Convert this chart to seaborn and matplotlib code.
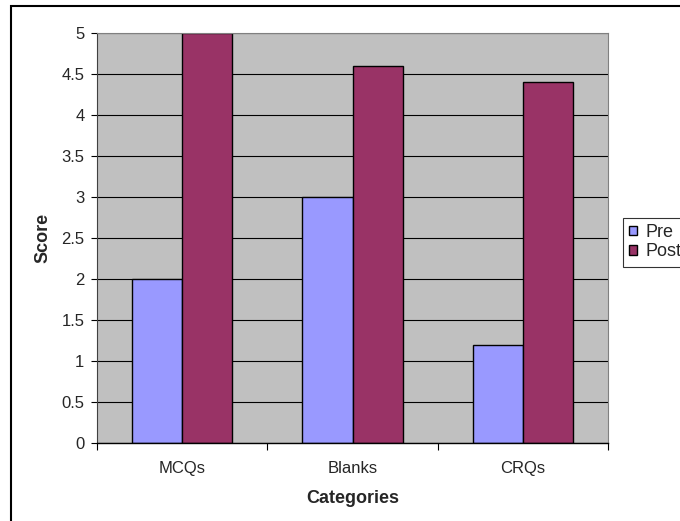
import pandas as pd
import matplotlib.pyplot as plt
import matplotlib.patches as mpatches
import seaborn as sns

categories = ["MCQs", "Blanks", "CRQs"]
pre_scores = [2.0, 3.0, 1.2]
post_scores = [5.0, 4.6, 4.4]
series_names = ["Pre", "Post"]
colors = {"Pre": "#9999FF", "Post": "#993366"}

df = pd.DataFrame({
    "Categories": categories * 2,
    "Score": pre_scores + post_scores,
    "Series": [series_names[0]] * 3 + [series_names[1]] * 3,
})

sns.set_style("white")
plt.rcParams["font.family"] = ["Liberation Sans", "DejaVu Sans"]

fig = plt.figure(figsize=(6.8, 5.21), dpi=100)
ax = fig.add_axes([97 / 680, 1 - 443 / 521, (608 - 97) / 680, (443 - 33) / 521])

sns.barplot(
    data=df, x="Categories", y="Score", hue="Series",
    palette=colors, edgecolor="black", linewidth=1.0,
    width=0.59, saturation=1, ax=ax, legend=False,
)

ax.set_facecolor("#C0C0C0")
ax.set_ylim(0, 5)
ax.set_xlim(-0.5, 2.5)
ax.set_yticks([i * 0.5 for i in range(11)])
ax.set_yticklabels(["0", "0.5", "1", "1.5", "2", "2.5", "3", "3.5", "4", "4.5", "5"], fontsize=12)
ax.yaxis.grid(True, color="black", linewidth=0.8)
ax.set_axisbelow(True)
ax.tick_params(axis="y", length=4, width=0.8, color="black", left=True, pad=5)

ax.set_xticks([-0.5, 0.5, 1.5, 2.5], minor=True)
ax.tick_params(axis="x", which="major", length=0, labelsize=12, pad=13)
ax.tick_params(axis="x", which="minor", length=5, width=0.8, color="black", bottom=True)

for side in ["top", "right"]:
    ax.spines[side].set_color("#808080")
    ax.spines[side].set_linewidth(0.8)
ax.spines["left"].set_color("#404040")
ax.spines["bottom"].set_color("black")
ax.spines["bottom"].set_linewidth(1.0)

ax.set_xlabel("Categories", fontsize=13, fontweight="bold", labelpad=10)
ax.set_ylabel("Score", fontsize=13, fontweight="bold", labelpad=7)

handles = [mpatches.Patch(facecolor=colors[s], edgecolor="black", label=s) for s in series_names]
leg = fig.legend(
    handles=handles, loc="upper left", bbox_to_anchor=(623 / 680, 1 - 218 / 521),
    frameon=True, fancybox=False, fontsize=13, handlelength=0.4, handleheight=0.4,
    handletextpad=0.5, borderpad=0.35, labelspacing=0.12, borderaxespad=0,
)
leg.get_frame().set_edgecolor("black")
leg.get_frame().set_linewidth(0.8)

# outer chart border, runs off the right and bottom edge
fig.patches.append(mpatches.Rectangle(
    (11 / 680, -0.5), 3.0, 1.5 - 6 / 521, transform=fig.transFigure,
    fill=False, edgecolor="black", linewidth=1.5, zorder=10,
))

fig.savefig("out.png", dpi=100)
